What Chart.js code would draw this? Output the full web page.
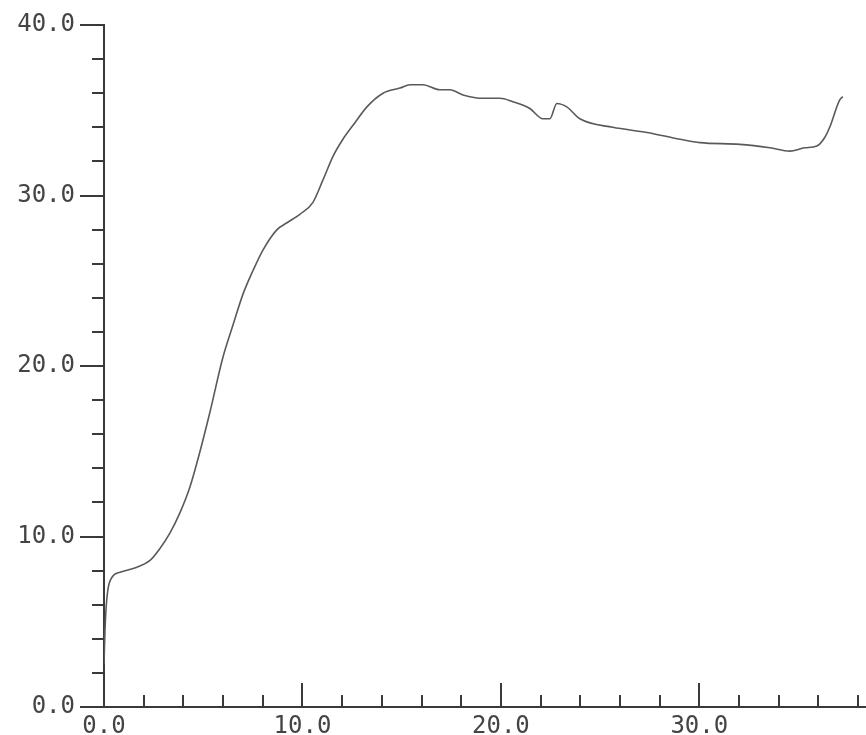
<!DOCTYPE html>
<html>
<head>
<meta charset="utf-8">
<script src="https://cdn.jsdelivr.net/npm/chart.js@4.4.1/dist/chart.umd.min.js"></script>
<style>
  html, body { margin: 0; padding: 0; background: #fff; }
  canvas { display: block; }
</style>
</head>
<body>
<canvas id="chart" width="866" height="735"></canvas>
<script>
// curve (x = time, y = value)
const xValues = [0, 0.05, 0.15, 0.4, 0.81, 1.66, 2.32, 2.82, 3.32, 3.83, 4.33, 4.84, 5.34, 5.99,
  6.5, 7.0, 7.51, 8.01, 8.72, 9.22, 9.87, 10.53, 11.03, 11.54, 12.04, 12.54, 13.25, 14.06,
  14.91, 15.42, 16.07, 16.93, 17.43, 18.09, 19.09, 19.95, 20.6, 21.46, 22.12, 22.47, 22.82,
  23.32, 23.98, 25.64, 27.36, 29.02, 30.03, 32.04, 33.55, 34.56, 35.32, 35.92, 36.32, 36.57,
  37.07, 37.23];
const yValues = [2.5, 4.5, 6.45, 7.6, 7.9, 8.2, 8.6, 9.3, 10.2, 11.4, 12.9, 15.0, 17.3, 20.5,
  22.4, 24.2, 25.6, 26.8, 28.0, 28.4, 28.9, 29.6, 30.9, 32.3, 33.3, 34.1, 35.2, 36.0,
  36.3, 36.5, 36.5, 36.2, 36.2, 35.9, 35.7, 35.7, 35.5, 35.1, 34.5, 34.5, 35.4,
  35.2, 34.5, 34.0, 33.7, 33.3, 33.1, 33.0, 32.8, 32.6, 32.8, 32.9, 33.4, 34.0,
  35.6, 35.8];
const yTickValues = [0, 10, 20, 30, 40];
const xTickValues = [0, 10, 20, 30];

const points = xValues.map((x, i) => ({ x: x, y: yValues[i] }));

const axisColor = '#3a3a3a';
const labelFont = { family: 'DejaVu Sans Mono', size: 24 };

// tick marks: long at every 10, short at every 2; y ticks point out, x ticks point up
const tickMarks = {
  id: 'tickMarks',
  afterDraw(chart) {
    const { x, y } = chart.scales;
    const ctx = chart.ctx;
    ctx.save();
    ctx.strokeStyle = axisColor;
    ctx.lineWidth = 2;
    ctx.beginPath();
    for (let v = 0; v <= 40; v += 2) {
      const py = Math.round(y.getPixelForValue(v));
      const len = v % 10 === 0 ? 24 : 12;
      ctx.moveTo(y.right - len, py);
      ctx.lineTo(y.right, py);
    }
    for (let v = 0; v <= 38; v += 2) {
      const px = Math.round(x.getPixelForValue(v));
      const len = v % 10 === 0 ? 24 : 12;
      ctx.moveTo(px, x.top);
      ctx.lineTo(px, x.top - len);
    }
    ctx.stroke();
    ctx.restore();
  }
};

new Chart(document.getElementById('chart'), {
  type: 'line',
  data: {
    datasets: [{
      data: points,
      borderColor: '#5a5a5a',
      borderWidth: 1.6,
      pointRadius: 0,
      cubicInterpolationMode: 'monotone',
      fill: false
    }]
  },
  options: {
    responsive: false,
    animation: false,
    layout: { padding: { top: 25, right: 0, left: 0, bottom: 0 } },
    plugins: { legend: { display: false }, tooltip: { enabled: false } },
    scales: {
      x: {
        type: 'linear',
        min: 0,
        max: 38.4,
        afterFit(scale) {
          scale.height = 28;
          scale.paddingLeft = 0;
          scale.paddingRight = 0;
        },
        afterBuildTicks(scale) { scale.ticks = xTickValues.map(v => ({ value: v })); },
        grid: { display: false, drawTicks: false },
        border: { display: true, color: axisColor, width: 2 },
        ticks: {
          padding: 5,
          color: '#444',
          font: labelFont,
          maxRotation: 0,
          autoSkip: false,
          callback: v => v.toFixed(1)
        }
      },
      y: {
        min: 0,
        max: 40,
        afterFit(scale) {
          scale.width = 104;
          scale.paddingTop = 0;
          scale.paddingBottom = 0;
        },
        afterBuildTicks(scale) { scale.ticks = yTickValues.map(v => ({ value: v })); },
        grid: { display: false, drawTicks: false },
        border: { display: true, color: axisColor, width: 2 },
        ticks: {
          padding: 29,
          color: '#444',
          font: labelFont,
          callback: v => v.toFixed(1)
        }
      }
    }
  },
  plugins: [tickMarks]
});
</script>
</body>
</html>
